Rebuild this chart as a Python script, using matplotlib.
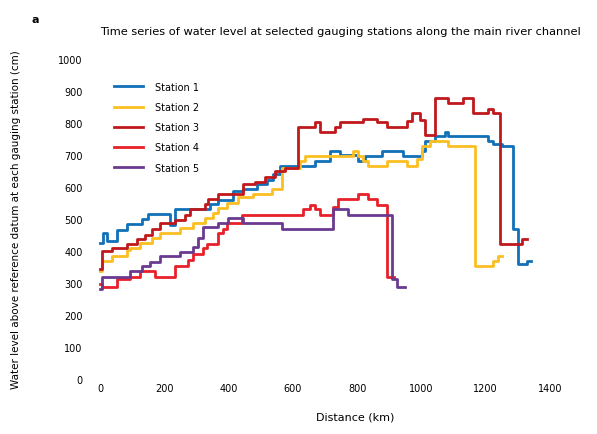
import matplotlib
matplotlib.use("Agg")
import matplotlib.pyplot as plt

# Series data (distance in km, value at each step start)
site1_x = [0, 9, 22, 53, 84, 131, 149, 218, 233, 342, 367, 414, 445, 488, 520, 538, 560,
           669, 716, 747, 803, 824, 877, 943, 1002, 1011, 1042, 1073, 1083, 1207, 1223,
           1251, 1285, 1300, 1329, 1340]
site1_y = [425, 456, 431, 466, 484, 500, 516, 481, 531, 547, 559, 588, 594, 609, 622, 641, 666,
           681, 713, 700, 681, 697, 713, 697, 713, 744, 759, 772, 759, 744, 734,
           728, 470, 360, 369, 369]

site2_x = [0, 6, 37, 84, 93, 124, 162, 187, 249, 289, 327, 352, 367, 395, 429, 476, 535,
           566, 622, 638, 787, 803, 818, 834, 893, 955, 986, 1002, 1027, 1083, 1167,
           1223, 1238, 1250]
site2_y = [338, 369, 384, 403, 409, 425, 441, 456, 472, 488, 503, 519, 534, 550, 569, 578, 594,
           659, 681, 697, 713, 697, 681, 666, 681, 666, 688, 728, 744, 728, 353,
           369, 384, 384]

site3_x = [0, 6, 37, 84, 115, 140, 162, 187, 233, 264, 280, 327, 336, 367, 445, 482, 513,
           544, 575, 616, 669, 684, 731, 747, 818, 862, 893, 955, 971, 996, 1011, 1042,
           1083, 1129, 1160, 1207, 1223, 1245, 1313, 1329]
site3_y = [344, 400, 408, 422, 436, 450, 470, 486, 498, 514, 530, 548, 561, 577, 608, 617, 631,
           650, 659, 786, 802, 773, 789, 802, 814, 802, 789, 805, 830, 809, 763, 877,
           861, 877, 830, 845, 830, 422, 438, 438]

site4_x = [0, 6, 53, 93, 124, 171, 233, 274, 289, 320, 333, 367, 383, 395, 442, 632, 653,
           669, 684, 725, 740, 803, 834, 862, 893, 915]
site4_y = [297, 289, 311, 320, 336, 320, 352, 372, 392, 408, 423, 455, 470, 486, 514, 530, 545,
           530, 514, 538, 561, 577, 561, 545, 320, 320]

site5_x = [0, 6, 93, 131, 156, 187, 249, 289, 305, 320, 367, 398, 445, 488, 566, 725, 772,
           909, 924, 949]
site5_y = [281, 320, 336, 352, 367, 383, 398, 414, 440, 475, 486, 502, 489, 486, 470, 530, 514,
           312, 289, 289]

labels = ["Station 1", "Station 2", "Station 3", "Station 4", "Station 5"]
colors = ["#1170b8", "#fbbf22", "#c0181c", "#e8202a", "#6a3a90"]

x_ticks = [0, 200, 400, 600, 800, 1000, 1200, 1400]
y_ticks = [0, 100, 200, 300, 400, 500, 600, 700, 800, 900, 1000]

W, H = 597, 435
fig = plt.figure(figsize=(W / 100, H / 100), dpi=100)
ax = fig.add_axes([95.2 / W, 1 - 382.9 / H, 486.9 / W, 332.5 / H])

series = [(site1_x, site1_y), (site2_x, site2_y), (site3_x, site3_y),
          (site4_x, site4_y), (site5_x, site5_y)]
handles = []
for (xs, ys), c, lab in zip(series, colors, labels):
    h, = ax.plot(xs, ys, drawstyle="steps-post", color=c, lw=2.0, label=lab)
    handles.append(h)

ax.set_xlim(-15, 1500)
ax.set_ylim(-9, 1030)
ax.set_xticks(x_ticks)
ax.set_yticks(y_ticks)
ax.tick_params(length=0, labelsize=7)
ax.tick_params(axis="x", pad=1)
ax.tick_params(axis="y", pad=9)
for s in ax.spines.values():
    s.set_visible(False)

fig.legend(handles=handles, loc="upper left", bbox_to_anchor=(105 / W, 1 - 74 / H),
           frameon=False, fontsize=7, handlelength=3.0, labelspacing=1.05,
           handletextpad=1.2)

fig.text(100 / W, 1 - 32 / H,
         "Time series of water level at selected gauging stations along the main river channel",
         ha="left", va="center", fontsize=8.2)
fig.text(35 / W, 1 - 20 / H, "a", ha="center", va="center", fontsize=8, fontweight="bold")
fig.text(16 / W, 1 - 220 / H,
         "Water level above reference datum at each gauging station (cm)",
         rotation=90, ha="center", va="center", fontsize=7.5)
fig.text(355 / W, 1 - 418 / H, "Distance (km)", ha="center", va="center", fontsize=8)

fig.savefig("out.png", dpi=100)
